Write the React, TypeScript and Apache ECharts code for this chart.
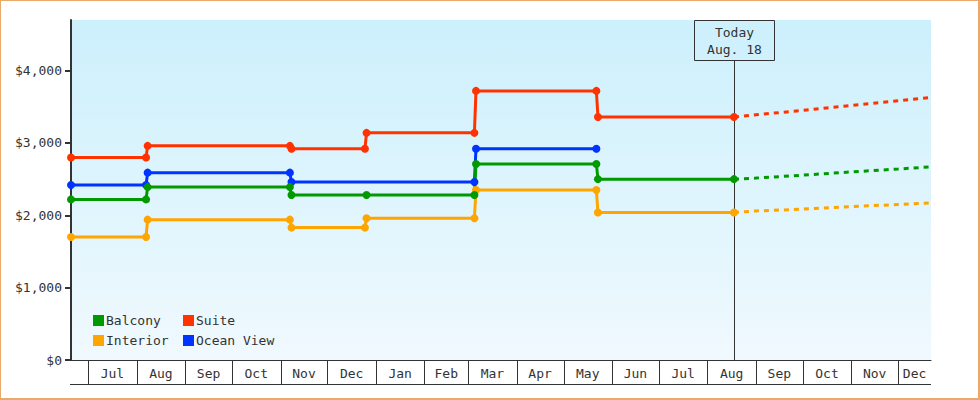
import { useEffect, useRef } from "react";
import * as echarts from "echarts";

// ---------- data ----------
const axisStart = "2012-06-20";
const axisEnd = "2013-12-22";
const todayDate = "2013-08-18";
const todayText = "Today\nAug. 18";

const monthLabels = ["Jul", "Aug", "Sep", "Oct", "Nov", "Dec", "Jan", "Feb", "Mar", "Apr", "May", "Jun", "Jul", "Aug", "Sep", "Oct", "Nov", "Dec"];
const monthStarts = ["2012-07-01", "2012-08-01", "2012-09-01", "2012-10-01", "2012-11-01", "2012-12-01", "2013-01-01", "2013-02-01", "2013-03-01", "2013-04-01", "2013-05-01", "2013-06-01", "2013-07-01", "2013-08-01", "2013-09-01", "2013-10-01", "2013-11-01", "2013-12-01", "2014-01-01"];

const yTicks = [0, 1000, 2000, 3000, 4000];
const yMax = 4700;

const balcony: [string, number][] = [
  ["2012-06-20", 2220], ["2012-08-07", 2220], ["2012-08-08", 2390], ["2012-11-07", 2390],
  ["2012-11-08", 2280], ["2012-12-26", 2280], ["2013-03-05", 2280], ["2013-03-06", 2710],
  ["2013-05-22", 2710], ["2013-05-23", 2500], ["2013-08-18", 2500],
];
const suite: [string, number][] = [
  ["2012-06-20", 2800], ["2012-08-07", 2800], ["2012-08-08", 2960], ["2012-11-07", 2960],
  ["2012-11-08", 2920], ["2012-12-25", 2920], ["2012-12-26", 3140], ["2013-03-05", 3140],
  ["2013-03-06", 3720], ["2013-05-22", 3720], ["2013-05-23", 3360], ["2013-08-18", 3360],
];
const interior: [string, number][] = [
  ["2012-06-20", 1700], ["2012-08-07", 1700], ["2012-08-08", 1940], ["2012-11-07", 1940],
  ["2012-11-08", 1830], ["2012-12-25", 1830], ["2012-12-26", 1960], ["2013-03-05", 1960],
  ["2013-03-06", 2350], ["2013-05-22", 2350], ["2013-05-23", 2040], ["2013-08-18", 2040],
];
const oceanView: [string, number][] = [
  ["2012-06-20", 2420], ["2012-08-07", 2420], ["2012-08-08", 2590], ["2012-11-07", 2590],
  ["2012-11-08", 2460], ["2013-03-05", 2460], ["2013-03-06", 2920], ["2013-05-22", 2920],
];

const balconyForecast: [string, number][] = [
  ["2013-08-18", 2500], ["2013-09-01", 2515], ["2013-10-01", 2555], ["2013-11-01", 2600], ["2013-12-01", 2640], ["2013-12-22", 2670],
];
const suiteForecast: [string, number][] = [
  ["2013-08-18", 3360], ["2013-09-01", 3390], ["2013-10-01", 3450], ["2013-11-01", 3520], ["2013-12-01", 3585], ["2013-12-22", 3630],
];
const interiorForecast: [string, number][] = [
  ["2013-08-18", 2040], ["2013-09-01", 2060], ["2013-10-01", 2085], ["2013-11-01", 2120], ["2013-12-01", 2150], ["2013-12-22", 2170],
];

const colors: Record<string, string> = {
  Balcony: "#009900",
  Suite: "#ff3300",
  Interior: "#ffa500",
  "Ocean View": "#0033ff",
};

// ---------- helpers ----------
const FONT = '"DejaVu Sans Mono", "Liberation Mono", monospace';
const INK = "#333333";
const ts = (s: string) => {
  const [y, m, d] = s.split("-").map(Number);
  return new Date(y, m - 1, d).getTime();
};
const toPts = (arr: [string, number][]) => arr.map(([d, v]) => [ts(d), v]);

function solid(name: string, arr: [string, number][]) {
  return {
    type: "line",
    name,
    data: toPts(arr),
    z: 3,
    symbol: "circle",
    symbolSize: 8,
    showSymbol: true,
    showAllSymbol: true,
    itemStyle: { color: colors[name] },
    lineStyle: { color: colors[name], width: 3 },
    emphasis: { disabled: true },
    silent: true,
  };
}
function dashed(name: string, arr: [string, number][]) {
  return {
    type: "line",
    name,
    data: toPts(arr),
    z: 2,
    showSymbol: false,
    itemStyle: { color: colors[name] },
    lineStyle: { color: colors[name], width: 3, type: [5, 5] },
    emphasis: { disabled: true },
    silent: true,
  };
}

const legendBase = {
  orient: "vertical",
  top: 314,
  padding: 0,
  itemWidth: 11,
  itemHeight: 11,
  itemGap: 7,
  icon: "rect",
  textStyle: { color: INK, fontFamily: FONT, fontSize: 13, padding: [0, 0, 0, -3] },
  selectedMode: false,
};

export default function App() {
  const ref = useRef<HTMLDivElement>(null);
  useEffect(() => {
    document.body.style.margin = "0";
    const chart = echarts.init(ref.current!, null, { renderer: "svg" });
    const minT = ts(axisStart);
    const maxT = ts(axisEnd);
    const monthData = monthLabels.map((_, i) => [ts(monthStarts[i]), ts(monthStarts[i + 1])]);

    chart.setOption({
      animation: false,
      grid: {
        left: 71,
        right: 49,
        top: 20,
        bottom: 40,
        show: true,
        borderWidth: 0,
        backgroundColor: new echarts.graphic.LinearGradient(0, 0, 0, 1, [
          { offset: 0, color: "#ccf0fc" },
          { offset: 1, color: "#f0f9fe" },
        ]),
      },
      legend: [
        { ...legendBase, data: ["Balcony", "Interior"], left: 93 },
        { ...legendBase, data: ["Suite", "Ocean View"], left: 183 },
      ],
      xAxis: {
        type: "time",
        min: minT,
        max: maxT,
        axisLine: { show: true, lineStyle: { color: INK, width: 1 } },
        axisTick: { show: false },
        axisLabel: { show: false },
        splitLine: { show: false },
      },
      yAxis: {
        type: "value",
        min: 0,
        max: yMax,
        interval: 1000,
        axisLine: { show: true, lineStyle: { color: INK, width: 2 } },
        axisTick: { show: true, length: 6, lineStyle: { color: INK, width: 2 }, customValues: yTicks },
        axisLabel: {
          customValues: yTicks,
          color: INK,
          fontFamily: FONT,
          fontSize: 13,
          margin: 9,
          formatter: (v: number) => "$" + v.toLocaleString("en-US"),
        },
        splitLine: { show: false },
      },
      series: [
        {
          type: "custom",
          name: "months",
          data: monthData,
          clip: false,
          silent: true,
          z: 1,
          renderItem: (params: any, api: any) => {
            const i = params.dataIndex;
            const cs = params.coordSys;
            const s = api.value(0);
            const e = api.value(1);
            const xs = api.coord([Math.max(s, minT), 0])[0];
            const xe = api.coord([Math.min(e, maxT), 0])[0];
            const yb = cs.y + cs.height;
            const children: any[] = [];
            if (s >= minT) {
              const lx = Math.round(xs) + 0.5;
              children.push({ type: "line", shape: { x1: lx, y1: yb, x2: lx, y2: yb + 24 }, style: { stroke: INK, lineWidth: 1 } });
            }
            children.push({
              type: "text",
              style: { text: monthLabels[i], x: (xs + xe) / 2, y: yb + 13, align: "center", verticalAlign: "middle", font: `13px ${FONT}`, fill: INK },
            });
            if (i === 0) {
              children.push({ type: "line", shape: { x1: cs.x - 1, y1: yb + 24.5, x2: cs.x + cs.width, y2: yb + 24.5 }, style: { stroke: INK, lineWidth: 1 } });
            }
            return { type: "group", children };
          },
        },
        {
          type: "custom",
          name: "today",
          data: [[ts(todayDate)]],
          clip: false,
          silent: true,
          z: 1,
          renderItem: (params: any, api: any) => {
            const cs = params.coordSys;
            const x = Math.round(api.coord([api.value(0), 0])[0]) + 0.5;
            const top = cs.y;
            const bottom = cs.y + cs.height;
            return {
              type: "group",
              children: [
                { type: "rect", shape: { x: x - 40, y: top + 0.5, width: 80, height: 40 }, style: { fill: "none", stroke: INK, lineWidth: 1 } },
                { type: "text", style: { text: todayText, x, y: top + 21, align: "center", verticalAlign: "middle", font: `13px ${FONT}`, lineHeight: 17, fill: INK } },
                { type: "line", shape: { x1: x, y1: top + 40.5, x2: x, y2: bottom }, style: { stroke: INK, lineWidth: 1 } },
              ],
            };
          },
        },
        dashed("Interior", interiorForecast),
        dashed("Balcony", balconyForecast),
        dashed("Suite", suiteForecast),
        solid("Ocean View", oceanView),
        solid("Interior", interior),
        solid("Balcony", balcony),
        solid("Suite", suite),
      ],
    });
    return () => chart.dispose();
  }, []);

  return (
    <div style={{ position: "relative", width: 980, height: 400, background: "#ffffff" }}>
      <div ref={ref} style={{ position: "absolute", left: 0, top: 0, width: 980, height: 400 }} />
      <div
        style={{
          position: "absolute",
          left: 0,
          top: 0,
          width: 980,
          height: 400,
          boxSizing: "border-box",
          borderStyle: "solid",
          borderColor: "#e8a96a",
          borderWidth: "1px 2px 2px 1px",
          pointerEvents: "none",
        }}
      />
    </div>
  );
}
